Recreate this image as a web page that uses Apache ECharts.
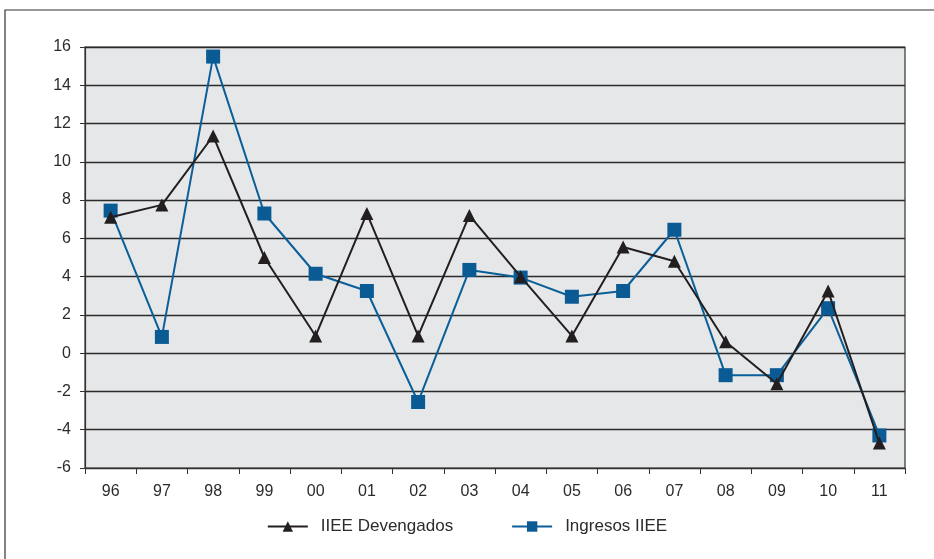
<!DOCTYPE html>
<html><head><meta charset="utf-8">
<script src="https://cdn.jsdelivr.net/npm/echarts@6/dist/echarts.min.js"></script>
<style>html,body{margin:0;padding:0;background:#fff}#c{width:934px;height:559px}</style>
</head><body><div id="c"></div>
<script>
const categories = ['96','97','98','99','00','01','02','03','04','05','06','07','08','09','10','11'];
const devengados = [7.1, 7.75, 11.35, 5.0, 0.9, 7.3, 0.9, 7.2, 4.0, 0.9, 5.55, 4.8, 0.6, -1.6, 3.25, -4.7];
const ingresos = [7.45, 0.85, 15.5, 7.3, 4.15, 3.25, -2.55, 4.35, 3.95, 2.95, 3.25, 6.45, -1.15, -1.15, 2.35, -4.3];
const yTicks = [-6,-4,-2,0,2,4,6,8,10,12,14,16];

const chart = echarts.init(document.getElementById('c'));
const font = 'Liberation Sans, Arial, sans-serif';
chart.setOption({
  animation: false,
  backgroundColor: '#fff',
  graphic: [{
    type: 'rect', shape: {x: 5, y: 10, width: 960, height: 600},
    style: {fill: 'none', stroke: '#333', lineWidth: 1.2}, silent: true, z: -1
  }],
  grid: {left: 85, right: 29, top: 47, bottom: 91, show: true, backgroundColor: '#e6e7e9', borderColor: '#333', borderWidth: 1.2},
  legend: {
    bottom: 19, left: 'center', itemGap: 58, itemWidth: 40, itemHeight: 13,
    textStyle: {fontFamily: font, fontSize: 17, color: '#2b2b2b', padding: [0, 0, 0, 8]},
    data: ['IIEE Devengados', 'Ingresos IIEE']
  },
  xAxis: {
    type: 'category', data: categories, boundaryGap: true,
    axisLine: {show: true, onZero: false, lineStyle: {color: '#333', width: 1.2}},
    axisTick: {show: true, length: 6, lineStyle: {color: '#333'}},
    axisLabel: {fontFamily: font, fontSize: 16, color: '#2b2b2b', margin: 16},
    splitLine: {show: false}
  },
  yAxis: {
    type: 'value', min: -6, max: 16, interval: 2,
    axisLine: {show: true, lineStyle: {color: '#333', width: 1.2}},
    axisTick: {show: true, length: 5, lineStyle: {color: '#333'}},
    axisLabel: {fontFamily: font, fontSize: 16, color: '#2b2b2b', margin: 14},
    splitLine: {show: true, lineStyle: {color: '#2a2a2a', width: 1.3}}
  },
  series: [{
    name: 'IIEE Devengados', type: 'line', data: devengados,
    symbol: 'triangle', symbolSize: 13,
    lineStyle: {color: '#231f20', width: 2},
    itemStyle: {color: '#231f20'}, z: 3
  }, {
    name: 'Ingresos IIEE', type: 'line', data: ingresos,
    symbol: 'rect', symbolSize: 14,
    lineStyle: {color: '#0a5f98', width: 2},
    itemStyle: {color: '#0a5a94'}, z: 2
  }]
});
</script></body></html>
